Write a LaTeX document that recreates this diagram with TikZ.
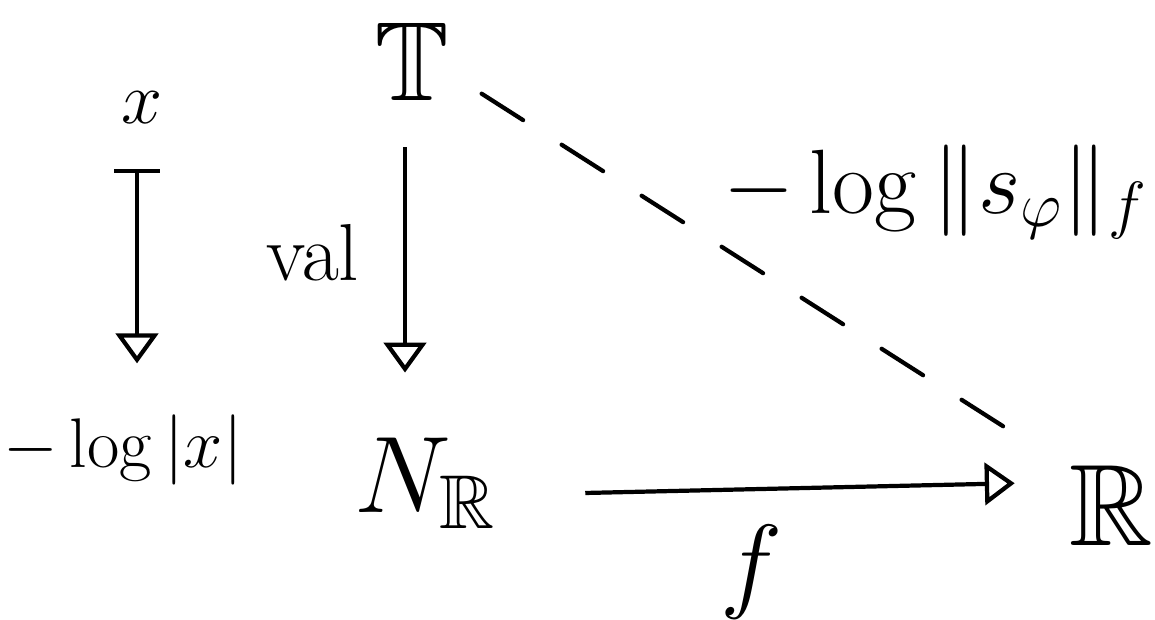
\RequirePackage{fix-cm}
\documentclass[tikz,border=0pt]{standalone}
\usepackage{amssymb}
\usetikzlibrary{arrows.meta}
\tikzset{
  every node/.style={inner sep=0pt, outer sep=0pt, anchor=base},
  arr/.style={line width=2.4pt, -{Triangle[open, length=17pt, width=24pt, line width=2.4pt]}},
  dsh/.style={line width=2.4pt, dash pattern=on 28pt off 26pt, line cap=round},
}
\begin{document}
\begin{tikzpicture}[x=0.02cm, y=-0.02cm]
\useasboundingbox (0,0) rectangle (1155,619);
% objects
\node[font=\fontsize{42}{50}\selectfont] (x) at (142,123) {$x$};
\node[font=\fontsize{40}{48}\selectfont] (lg) at (123,467) {$-\log|x|$};
\node[font=\fontsize{64}{72}\selectfont] (T) at (412,100) {$\mathbb{T}$};
\node[font=\fontsize{62}{70}\selectfont] (N) at (425,512) {$N_{\mathbb{R}}$};
\node[font=\fontsize{66}{74}\selectfont] (R) at (1111,545) {$\mathbb{R}$};
% labels
\node[font=\fontsize{46}{54}\selectfont] (lval) at (313,280) {$\mathrm{val}$};
\node[font=\fontsize{60}{68}\selectfont] (lf) at (752,598) {$f$};
\node[font=\fontsize{52}{60}\selectfont] (ls) at (935,213) {$-\log\|s_\varphi\|_f$};
% connectors
\draw[line width=2.4pt, {Bar[width=26pt, line width=2.4pt]}-{Triangle[open, length=17pt, width=24pt, line width=2.4pt]}, shorten <=26pt, shorten >=29pt]
  ([xshift=-0.1cm]x.south) -- ([xshift=-0.1cm]x.south |- lg.north);
\draw[arr, shorten <=27pt, shorten >=37pt] ([xshift=-0.14cm]T.south) -- ([xshift=-0.14cm]T.south |- N.north);
\draw[arr, shorten <=51pt, shorten >=31pt] ([yshift=0.34cm]N.base east) -- ([yshift=1.26cm]R.base west);
\draw[dsh, shorten <=47pt, shorten >=71pt] ([yshift=0.24cm]T.center) -- ([yshift=0.2cm]R.center);
\end{tikzpicture}
\end{document}
